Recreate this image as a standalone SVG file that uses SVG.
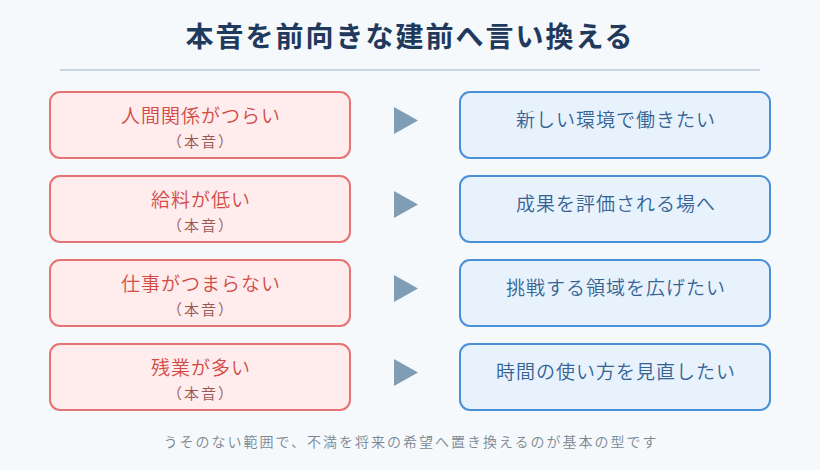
<svg xmlns="http://www.w3.org/2000/svg" width="820" height="470" viewBox="0 0 820 470">
<style>
text{font-family:"Noto Sans CJK JP","Noto Sans CJK SC",sans-serif;text-anchor:middle}
.title{font-size:28px;font-weight:bold;fill:#1f3a5c;letter-spacing:2px}
.lbox{fill:#ffecec;stroke:#e57373;stroke-width:2}
.rbox{fill:#e8f2fc;stroke:#4a90d9;stroke-width:2}
.lt{font-size:19px;font-weight:350;fill:#d24b47;letter-spacing:1px}
.ls{font-size:15px;font-weight:350;fill:#9c5652;letter-spacing:2px}
.rt{font-size:19px;font-weight:350;fill:#366395;letter-spacing:1px}
.arr{fill:#7f9db5}
.foot{font-size:14px;font-weight:350;fill:#7c8692;letter-spacing:2px}
</style>
<rect width="820" height="470" fill="#f5f9fc"/>
<text class="title" x="410" y="47">本音を前向きな建前へ言い換える</text>
<line x1="60" y1="70" x2="760" y2="70" stroke="#cbd5e1" stroke-width="2"/>
<g id="connectors">
<polygon class="arr" points="394,107 418,120.5 394,134"/>
<polygon class="arr" points="394,191 418,204.5 394,218"/>
<polygon class="arr" points="394,275 418,288.5 394,302"/>
<polygon class="arr" points="394,359 418,372.5 394,386"/>
</g>
<g id="honne1"><rect class="lbox" x="50" y="92" width="300" height="66" rx="10"/><text class="lt" x="201" y="123">人間関係がつらい</text><text class="ls" x="201" y="147">（本音）</text></g>
<g id="tatemae1"><rect class="rbox" x="460" y="92" width="310" height="66" rx="10"/><text class="rt" x="616" y="127">新しい環境で働きたい</text></g>
<g id="honne2"><rect class="lbox" x="50" y="176" width="300" height="66" rx="10"/><text class="lt" x="201" y="207">給料が低い</text><text class="ls" x="201" y="231">（本音）</text></g>
<g id="tatemae2"><rect class="rbox" x="460" y="176" width="310" height="66" rx="10"/><text class="rt" x="616" y="211">成果を評価される場へ</text></g>
<g id="honne3"><rect class="lbox" x="50" y="260" width="300" height="66" rx="10"/><text class="lt" x="201" y="291">仕事がつまらない</text><text class="ls" x="201" y="315">（本音）</text></g>
<g id="tatemae3"><rect class="rbox" x="460" y="260" width="310" height="66" rx="10"/><text class="rt" x="616" y="295">挑戦する領域を広げたい</text></g>
<g id="honne4"><rect class="lbox" x="50" y="344" width="300" height="66" rx="10"/><text class="lt" x="201" y="375">残業が多い</text><text class="ls" x="201" y="399">（本音）</text></g>
<g id="tatemae4"><rect class="rbox" x="460" y="344" width="310" height="66" rx="10"/><text class="rt" x="616" y="379">時間の使い方を見直したい</text></g>
<text class="foot" x="411" y="447">うそのない範囲で、不満を将来の希望へ置き換えるのが基本の型です</text>
</svg>
